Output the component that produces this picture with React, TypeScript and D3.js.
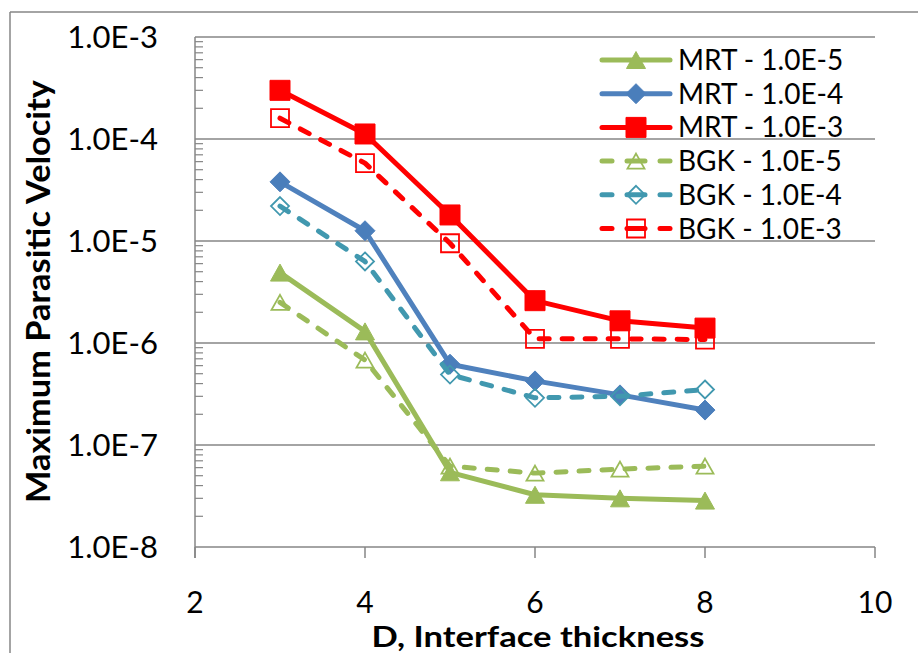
import React from "react";
import * as d3 from "d3";

const thickness = [3, 4, 5, 6, 7, 8];
const mrt5 = [4.9e-6, 1.3e-6, 5.4e-8, 3.25e-8, 3.0e-8, 2.85e-8];
const mrt4 = [3.8e-5, 1.26e-5, 6.2e-7, 4.25e-7, 3.1e-7, 2.2e-7];
const mrt3 = [3.0e-4, 1.12e-4, 1.8e-5, 2.6e-6, 1.65e-6, 1.4e-6];
const bgk5 = [2.5e-6, 6.8e-7, 6.2e-8, 5.3e-8, 5.8e-8, 6.2e-8];
const bgk4 = [2.2e-5, 6.3e-6, 4.9e-7, 2.9e-7, 3.0e-7, 3.5e-7];
const bgk3 = [1.6e-4, 5.8e-5, 9.5e-6, 1.1e-6, 1.1e-6, 1.08e-6];

const seriesNames = [
  "MRT - 1.0E-5",
  "MRT - 1.0E-4",
  "MRT - 1.0E-3",
  "BGK - 1.0E-5",
  "BGK - 1.0E-4",
  "BGK - 1.0E-3",
];
const seriesValues = [mrt5, mrt4, mrt3, bgk5, bgk4, bgk3];
const seriesColors = ["#9BBB59", "#4F81BD", "#FF0000", "#9BBB59", "#4198AF", "#FF0000"];
const markerFill = ["#9BBB59", "#4A7EBB", "#FF0000", "none", "none", "none"];
const markerShape = ["triangle", "diamond", "square", "triangle", "diamond", "square"];
const dashed = [false, false, false, true, true, true];

const xTicks = [2, 4, 6, 8, 10];
const yTicks = [1e-3, 1e-4, 1e-5, 1e-6, 1e-7, 1e-8];
const yTickLabels = ["1.0E-3", "1.0E-4", "1.0E-5", "1.0E-6", "1.0E-7", "1.0E-8"];

const FONT = "Lato, 'Open Sans', sans-serif";
const GRID = "#868686";

function markerPath(shape: string, open: boolean): string {
  if (shape === "triangle") {
    const w = open ? 17 : 19, h = open ? 15 : 17;
    return `M0,${-h / 2}L${w / 2},${h / 2}L${-w / 2},${h / 2}Z`;
  }
  if (shape === "diamond") {
    const r = open ? 9 : 10;
    return `M0,${-r}L${r},0L0,${r}L${-r},0Z`;
  }
  const s = open ? 9 : 10;
  return `M${-s},${-s}L${s},${-s}L${s},${s}L${-s},${s}Z`;
}

export default function App() {
  const x = d3.scaleLinear().domain([2, 10]).range([195, 875]);
  const y = d3.scaleLog().domain([1e-8, 1e-3]).range([547, 37]);

  const minorTicks: number[] = [];
  for (let e = -8; e < -3; e++) {
    for (let m = 2; m <= 9; m++) minorTicks.push(m * Math.pow(10, e));
  }

  const line = d3
    .line<number>()
    .x((_, i) => x(thickness[i]))
    .y((v) => y(v));

  const legendY0 = 60;
  const legendStep = 33.7;

  return (
    <svg
      width={918}
      height={653}
      style={{ position: "absolute", left: 0, top: 0, background: "#fff" }}
    >
      <rect x={0} y={0} width={918} height={653} fill="#fff" />
      {/* outer chart border */}
      <line x1={10} y1={12} x2={918} y2={12} stroke={GRID} strokeWidth={1.5} />
      <line x1={10} y1={12} x2={10} y2={653} stroke={GRID} strokeWidth={1.5} />

      {/* gridlines */}
      {yTicks.map((t) => (
        <line key={"g" + t} x1={195} x2={875} y1={y(t)} y2={y(t)} stroke={GRID} strokeWidth={1.5} />
      ))}
      {/* y axis */}
      <line x1={195} x2={195} y1={37} y2={558} stroke={GRID} strokeWidth={1.5} />
      {minorTicks.map((t) => (
        <line key={"m" + t} x1={195} x2={203} y1={y(t)} y2={y(t)} stroke={GRID} strokeWidth={1.2} />
      ))}
      {/* x axis ticks */}
      {xTicks.map((t) => (
        <line key={"xt" + t} x1={x(t)} x2={x(t)} y1={547} y2={558} stroke={GRID} strokeWidth={1.5} />
      ))}

      {/* y tick labels */}
      {yTicks.map((t, i) => (
        <text
          key={"yl" + t}
          x={158}
          y={y(t) + 11}
          textAnchor="end"
          fontFamily={FONT}
          fontSize={31}
          fill="#000"
        >
          {yTickLabels[i]}
        </text>
      ))}
      {/* x tick labels */}
      {xTicks.map((t) => (
        <text
          key={"xl" + t}
          x={x(t)}
          y={612.5}
          textAnchor="middle"
          fontFamily={FONT}
          fontSize={30}
          fill="#000"
        >
          {t}
        </text>
      ))}

      {/* axis titles */}
      <text
        x={538}
        y={646.5}
        textAnchor="middle"
        fontFamily={FONT}
        fontWeight="bold"
        fontSize={28}
        textLength={333}
        lengthAdjust="spacingAndGlyphs"
        fill="#000"
      >
        D, Interface thickness
      </text>
      <text
        transform={`translate(50,291.5) rotate(-90)`}
        textAnchor="middle"
        fontFamily={FONT}
        fontWeight="bold"
        fontSize={32}
        textLength={423}
        lengthAdjust="spacingAndGlyphs"
        fill="#000"
      >
        Maximum Parasitic Velocity
      </text>

      {/* series */}
      {seriesValues.map((vals, si) => (
        <g key={"s" + si}>
          <path
            d={line(vals) || ""}
            fill="none"
            stroke={seriesColors[si]}
            strokeWidth={5}
            strokeLinecap="round"
            strokeLinejoin="round"
            strokeDasharray={dashed[si] ? "10,13" : undefined}
          />
          {vals.map((v, i) => (
            <path
              key={i}
              transform={`translate(${x(thickness[i])},${y(v)})`}
              d={markerPath(markerShape[si], dashed[si])}
              fill={markerFill[si]}
              stroke={seriesColors[si]}
              strokeWidth={dashed[si] ? 1.8 : 1}
            />
          ))}
        </g>
      ))}

      {/* legend */}
      {seriesNames.map((name, si) => {
        const cy = legendY0 + si * legendStep;
        return (
          <g key={"lg" + si}>
            {dashed[si] ? (
              <g stroke={seriesColors[si]} strokeWidth={5} strokeLinecap="round">
                <line x1={602} x2={612} y1={cy} y2={cy} />
                <line x1={627} x2={645} y1={cy} y2={cy} />
                <line x1={660} x2={670} y1={cy} y2={cy} />
              </g>
            ) : (
              <line
                x1={602}
                x2={670}
                y1={cy}
                y2={cy}
                stroke={seriesColors[si]}
                strokeWidth={5}
                strokeLinecap="round"
              />
            )}
            <path
              transform={`translate(636,${cy})`}
              d={markerPath(markerShape[si], dashed[si])}
              fill={markerFill[si]}
              stroke={seriesColors[si]}
              strokeWidth={dashed[si] ? 1.8 : 1}
            />
            <text x={678} y={cy + 10} fontFamily={FONT} fontSize={28} fill="#000">
              {name}
            </text>
          </g>
        );
      })}
    </svg>
  );
}
